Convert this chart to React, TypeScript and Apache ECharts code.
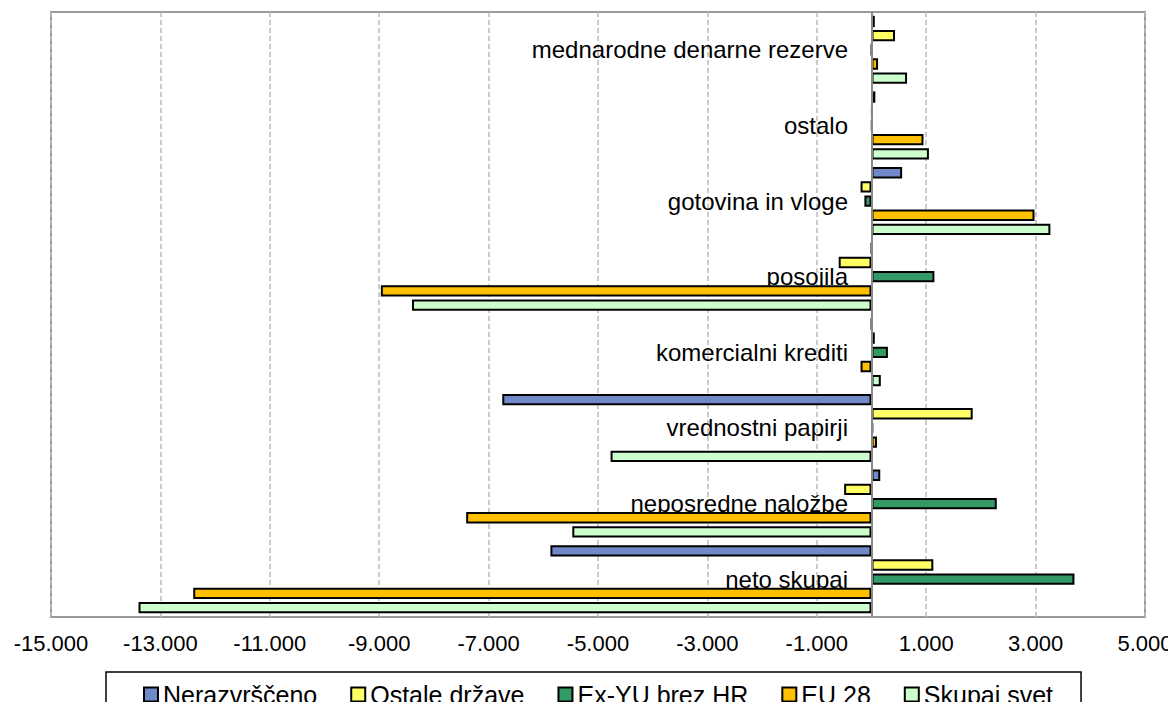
import React, { useEffect, useRef } from "react";
import * as echarts from "echarts";

const categories = [
  "mednarodne denarne rezerve",
  "ostalo",
  "gotovina in vloge",
  "posojila",
  "komercialni krediti",
  "vrednostni papirji",
  "neposredne naložbe",
  "neto skupaj",
];

const seriesNames = ["Nerazvrščeno", "Ostale države", "Ex-YU brez HR", "EU 28", "Skupaj svet"];
const seriesColors = ["#7089C9", "#FFFF66", "#339966", "#FFC000", "#CCFFCC"];

const nerazvrsceno = [60, 70, 560, 0, 0, -6750, 160, -5870];
const ostaleDrzave = [430, 15, -200, -600, 60, 1850, -500, 1130];
const exYu = [0, 10, -130, 1150, 300, 30, 2290, 3710];
const eu28 = [120, 950, 2980, -8970, -200, 100, -7410, -12400];
const skupajSvet = [650, 1050, 3270, -8400, 170, -4770, -5470, -13400];

const seriesData = [nerazvrsceno, ostaleDrzave, exYu, eu28, skupajSvet];

const fmt = (v: number) => {
  const s = Math.abs(v).toString().replace(/\B(?=(\d{3})+(?!\d))/g, ".");
  return (v < 0 ? "-" : "") + s;
};

export default function App() {
  const ref = useRef<HTMLDivElement>(null);
  useEffect(() => {
    if (!ref.current) return;
    const chart = echarts.init(ref.current, undefined, { renderer: "svg" });
    const font = "Liberation Sans, Arial, sans-serif";
    chart.setOption({
      animation: false,
      grid: {
        left: 51,
        right: 31,
        top: 12,
        bottom: 93,
        show: true,
        borderColor: "#999999",
        borderWidth: 2,
        containLabel: false,
        outerBoundsMode: "none",
      },
      xAxis: {
        type: "value",
        min: -15000,
        max: 5000,
        interval: 2000,
        axisLine: { show: false },
        axisTick: { show: false },
        splitLine: { show: true, lineStyle: { color: "#BBBBBB", type: [5, 3], width: 1.5 } },
        axisLabel: {
          formatter: fmt,
          fontSize: 22,
          fontFamily: font,
          color: "#000",
          margin: 15,
        },
      },
      yAxis: {
        type: "category",
        inverse: true,
        data: categories,
        axisLine: { show: false },
        axisTick: { show: false },
        splitLine: { show: false },
        axisLabel: {
          fontSize: 24,
          fontFamily: font,
          color: "#000",
          margin: -797,
        },
      },
      legend: {
        top: 672,
        left: 106,
        padding: [10, 28, 10, 37],
        itemGap: 33,
        itemWidth: 14,
        itemHeight: 14,
        icon: "rect",
        borderColor: "#000",
        borderWidth: 1.5,
        textStyle: { fontSize: 25, fontFamily: font, color: "#000" },
        data: seriesNames,
      },
      series: seriesNames.map((name, i) => ({
        name,
        type: "bar",
        data: seriesData[i],
        barCategoryGap: "10%",
        barGap: "25%",
        itemStyle: { color: seriesColors[i], borderColor: "#000", borderWidth: 2 },
        ...(i === 0
          ? {
              markLine: {
                silent: true,
                symbol: "none",
                label: { show: false },
                lineStyle: { color: "#888888", width: 2, type: "solid" },
                data: [{ xAxis: 0 }],
              },
            }
          : {}),
      })),
    });
    return () => chart.dispose();
  }, []);
  return <div ref={ref} style={{ width: 1176, height: 710, margin: -8 }} />;
}
